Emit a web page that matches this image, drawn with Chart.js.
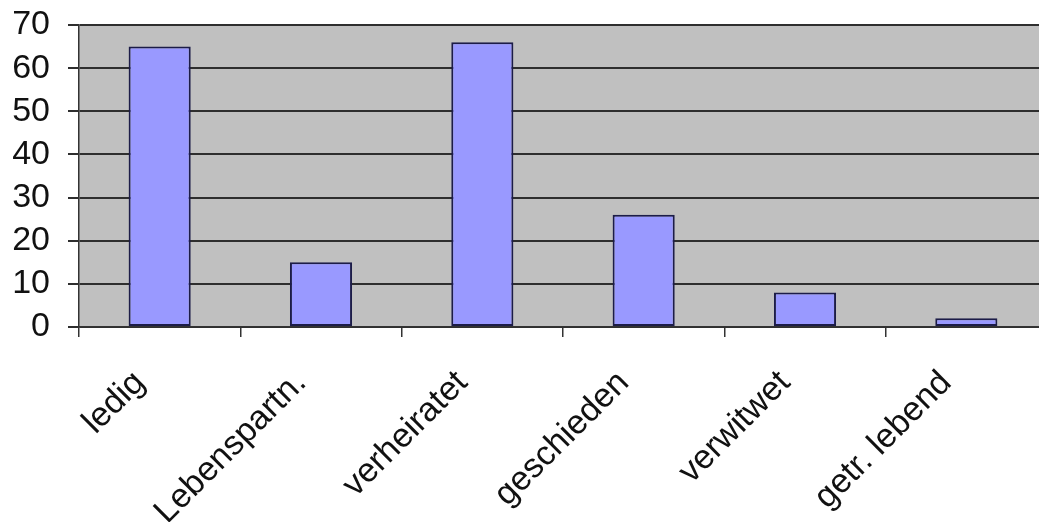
<!DOCTYPE html>
<html>
<head>
<meta charset="utf-8">
<script src="https://cdn.jsdelivr.net/npm/chart.js@4"></script>
<style>
  html, body { margin: 0; padding: 0; background: #fff; overflow: hidden; }
</style>
</head>
<body>
<canvas id="myChart" width="1047" height="522"></canvas>
<script>
var categories = ['ledig', 'Lebenspartn.', 'verheiratet', 'geschieden', 'verwitwet', 'getr. lebend'];
var counts = [65, 15, 66, 26, 8, 2];
var yTicks = [0, 10, 20, 30, 40, 50, 60, 70];

// grey plot area behind the bars
var plotBackground = {
    id: 'plotBackground',
    beforeDraw: function (chart) {
        var a = chart.chartArea;
        var c = chart.ctx;
        c.save();
        c.fillStyle = '#c0c0c0';
        c.fillRect(a.left, a.top, a.right - a.left, a.bottom - a.top);
        c.restore();
    }
};

var ctx = document.getElementById('myChart').getContext('2d');
var myChart = new Chart(ctx, {
    type: 'bar',
    data: {
        labels: categories,
        datasets: [{
            data: counts,
            backgroundColor: '#9999ff',
            borderColor: '#1c1c48',
            borderWidth: 2,
            borderSkipped: false,
            barPercentage: 0.385,
            categoryPercentage: 1
        }]
    },
    options: {
        responsive: false,
        animation: false,
        layout: { padding: 0 },
        plugins: {
            legend: { display: false },
            tooltip: { enabled: false }
        },
        scales: {
            x: {
                offset: true,
                afterFit: function (scale) { scale.height = 195; },
                border: { color: '#333', width: 1.5 },
                grid: {
                    display: true,
                    drawOnChartArea: false,
                    drawTicks: true,
                    tickLength: 10,
                    color: '#333',
                    lineWidth: 1.5,
                    offset: true
                },
                ticks: {
                    autoSkip: false,
                    minRotation: 45,
                    maxRotation: 45,
                    padding: 26,
                    labelOffset: -20,
                    color: '#111',
                    font: { family: 'Liberation Sans, Arial', size: 34 }
                }
            },
            y: {
                min: 0,
                max: 70,
                afterFit: function (scale) {
                    scale.width = 79;
                    scale.paddingTop = 25;
                },
                afterBuildTicks: function (scale) {
                    scale.ticks = yTicks.map(function (v) { return { value: v }; });
                },
                border: { color: '#333', width: 1.5 },
                grid: {
                    color: '#2e2e2e',
                    lineWidth: 2,
                    drawTicks: true,
                    tickLength: 11
                },
                ticks: {
                    autoSkip: false,
                    padding: 18,
                    color: '#111',
                    font: { family: 'Liberation Sans, Arial', size: 34, lineHeight: 1 }
                }
            }
        }
    },
    plugins: [plotBackground]
});
</script>
</body>
</html>
